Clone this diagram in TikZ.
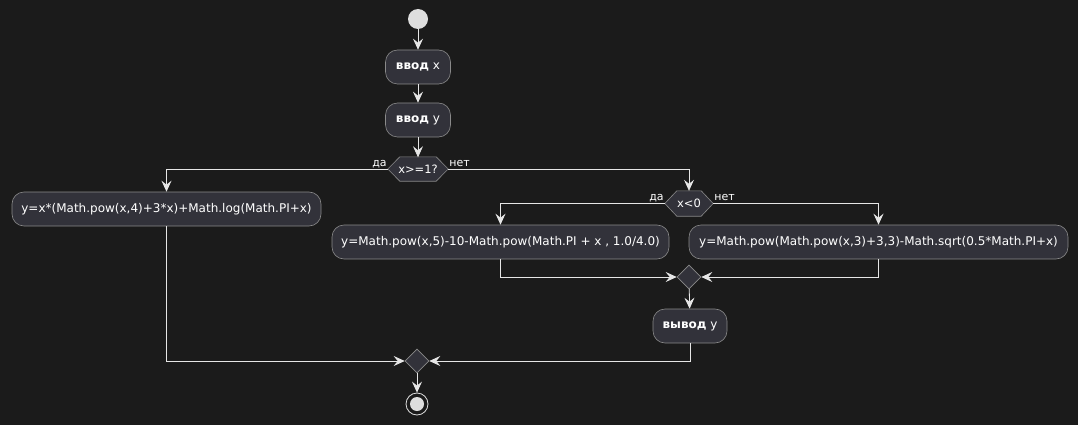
\documentclass[tikz,border=0pt]{standalone}
\usepackage{fontspec}
\setmainfont{DejaVu Sans}
\usetikzlibrary{arrows.meta,shapes.geometric,calc}
\definecolor{bg}{HTML}{1B1B1B}
\definecolor{boxfill}{HTML}{32323A}
\definecolor{boxline}{HTML}{8A8A8A}
\definecolor{wire}{HTML}{E6E6E6}
\definecolor{dotfill}{HTML}{DEDEDE}
\tikzset{
  act/.style={draw=boxline, fill=boxfill, rounded corners=12pt, text=white,
    font=\fontsize{12}{14}\selectfont, minimum height=34pt, inner xsep=0pt, line width=0.6pt},
  hexbox/.style={minimum width=60pt, minimum height=24pt, inner sep=0pt},
  hextext/.style={text=white, font=\fontsize{11.5}{13}\selectfont, inner sep=0pt},
  hexline/.style={draw=boxline, fill=boxfill, line width=0.6pt},
  merge/.style={diamond, draw=boxline, fill=boxfill, minimum width=24pt, minimum height=24pt, inner sep=0pt, line width=0.6pt},
  lbl/.style={text=white, font=\fontsize{11}{12}\selectfont, inner sep=0pt},
  flow/.style={draw=wire, line width=0.8pt, -{Stealth[length=11pt,width=10pt,inset=4pt]}},
}
\begin{document}
\begin{tikzpicture}[x=1pt,y=-1pt]
\path[use as bounding box, fill=bg] (0,0) rectangle (1078,425);

\node[circle, fill=dotfill, minimum size=20pt, inner sep=0pt] (start) at (418,19) {};
\node[act, minimum width=65pt] (in1) at (418,67) {\textbf{ввод} x};
\node[act, minimum width=65pt] (in2) at (418,120) {\textbf{ввод} y};
\node[hexbox] (d1) at (418,169) {};
\node[act, minimum width=309pt] (b1) at (166.5,209) {y=x*(Math.pow(x,4)+3*x)+Math.log(Math.PI+x)};
\node[hexbox, minimum width=48pt, minimum height=25pt] (d2) at (689,203.5) {};
\node[act, minimum width=337pt] (b2) at (500.5,242) {y=Math.pow(x,5)-10-Math.pow(Math.PI + x , 1.0/4.0)};
\node[act, minimum width=379pt] (b3) at (878.5,242) {y=Math.pow(Math.pow(x,3)+3,3)-Math.sqrt(0.5*Math.PI+x)};
\node[merge] (m1) at (689,277) {};
\node[act, minimum width=74pt] (out) at (690,326) {\textbf{вывод} y};
\node[merge] (m2) at (417,361) {};
\node[circle, draw=dotfill, line width=0.8pt, minimum size=22pt, inner sep=0pt] (end) at (417,404) {};
\node[circle, fill=dotfill, minimum size=14pt, inner sep=0pt] (endin) at (end) {};

% hexagons
\draw[hexline]
  (d1.west) -- ($(d1.north west)+(12,0)$) -- ($(d1.north east)+(-12,0)$) -- (d1.east)
  -- ($(d1.south east)+(-12,0)$) -- ($(d1.south west)+(12,0)$) -- cycle;
\node[hextext] (d1t) at (d1) {x>=1?};
\draw[hexline]
  (d2.west) -- ($(d2.north west)+(12,0)$) -- ($(d2.north east)+(-12,0)$) -- (d2.east)
  -- ($(d2.south east)+(-12,0)$) -- ($(d2.south west)+(12,0)$) -- cycle;
\node[hextext] (d2t) at (d2) {x<0};

\node[lbl, anchor=base east] (l1) at ($(d1.west)+(-1,-3)$) {да};
\node[lbl, anchor=base west] (l2) at ($(d1.east)+(1,-3)$) {нет};
\node[lbl, anchor=base east] (l3) at ($(d2.west)+(-1,-3)$) {да};
\node[lbl, anchor=base west] (l4) at ($(d2.east)+(1,-3)$) {нет};

\path[flow] (start) -- (in1);
\path[flow] (in1) -- (in2);
\path[flow] (in2) -- ($(d1.north)+(0,0.5)$);
\path[flow] (d1.west) -| (b1.north);
\path[flow] (d1.east) -| (d2.north);
\path[flow] (d2.west) -| (b2.north);
\path[flow] (d2.east) -| (b3.north);
\path[flow] (b2.south) |- (m1.west);
\path[flow] (b3.south) |- (m1.east);
\path[flow] (m1) -- (out);
\path[flow] (b1.south) |- (m2.west);
\path[flow] (out.south) |- (m2.east);
\path[flow] (m2) -- (end);
\end{tikzpicture}
\end{document}
